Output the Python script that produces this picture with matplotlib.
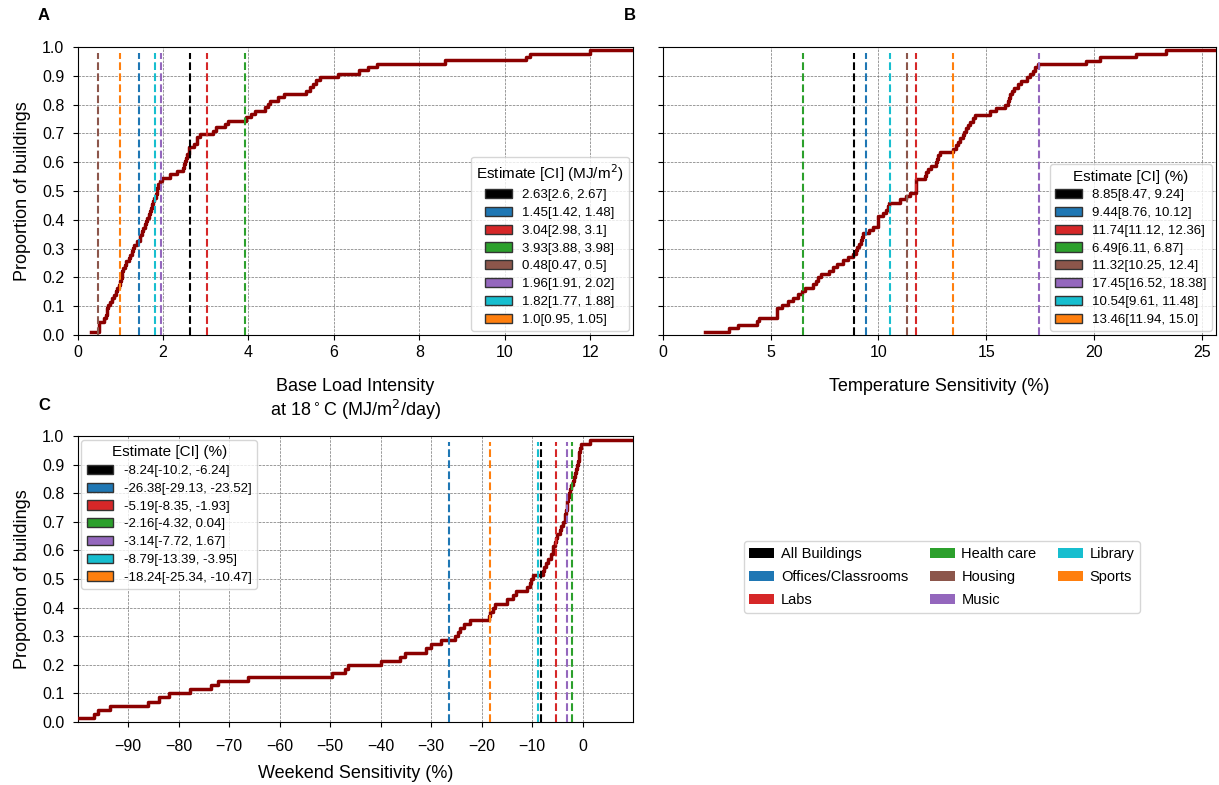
import matplotlib.pyplot as plt
import numpy as np
from matplotlib.patches import Patch

plt.rcParams['font.family'] = ['Liberation Sans', 'DejaVu Sans']
plt.rcParams['font.size'] = 10

# Building groups and their colours (same order in every legend)
groups = ['All Buildings', 'Offices/Classrooms', 'Labs', 'Health care',
          'Housing', 'Music', 'Library', 'Sports']
group_colors = ['black', 'tab:blue', 'tab:red', 'tab:green',
                'tab:brown', 'tab:purple', 'tab:cyan', 'tab:orange']

# Panel A: base load intensity per building (MJ/m2/day)
base_load = [0.31, 0.50, 0.50, 0.51, 0.62, 0.66, 0.68, 0.70, 0.72, 0.75,
             0.80, 0.86, 0.90, 0.92, 0.98, 1.00, 1.02, 1.04, 1.05, 1.07,
             1.10, 1.14, 1.21, 1.24, 1.27, 1.30, 1.32, 1.39, 1.46, 1.47,
             1.50, 1.54, 1.58, 1.61, 1.63, 1.67, 1.70, 1.73, 1.75, 1.76,
             1.80, 1.83, 1.85, 1.87, 1.89, 1.93, 1.98, 2.16, 2.32, 2.46,
             2.50, 2.51, 2.54, 2.57, 2.60, 2.62, 2.72, 2.79, 2.80, 2.86,
             3.18, 3.25, 3.45, 3.53, 3.95, 4.07, 4.15, 4.38, 4.46, 4.50,
             4.70, 4.84, 5.34, 5.45, 5.50, 5.57, 5.67, 6.09, 6.59, 6.80,
             7.00, 8.60, 10.5, 10.6, 12.0, 14.0]
base_est = [2.63, 1.45, 3.04, 3.93, 0.48, 1.96, 1.82, 1.0]
base_lo = [2.6, 1.42, 2.98, 3.88, 0.47, 1.91, 1.77, 0.95]
base_hi = [2.67, 1.48, 3.1, 3.98, 0.5, 2.02, 1.88, 1.05]

# Panel B: temperature sensitivity per building (%)
temp_sens = [1.96, 3.09, 3.50, 4.35, 4.48, 5.31, 5.31, 5.31, 5.51, 5.82,
             6.05, 6.28, 6.45, 6.60, 6.98, 7.10, 7.20, 7.32, 7.70, 7.90,
             8.10, 8.36, 8.60, 8.80, 8.95, 9.00, 9.12, 9.20, 9.25, 9.29,
             9.55, 9.75, 9.98, 9.98, 9.98, 10.2, 10.35, 10.45, 10.5, 10.99,
             11.27, 11.45, 11.76, 11.76, 11.76, 11.76, 12.15, 12.22, 12.28, 12.45,
             12.65, 12.72, 12.78, 12.84, 13.46, 13.62, 13.70, 13.78, 13.90, 13.98,
             14.06, 14.15, 14.25, 14.40, 14.46, 15.15, 15.46, 15.85, 16.0, 16.05,
             16.12, 16.2, 16.3, 16.45, 16.6, 16.9, 17.05, 17.15, 17.25, 17.39,
             19.63, 20.25, 21.94, 23.33, 27.0]
temp_est = [8.85, 9.44, 11.74, 6.49, 11.32, 17.45, 10.54, 13.46]
temp_lo = [8.47, 8.76, 11.12, 6.11, 10.25, 16.52, 9.61, 11.94]
temp_hi = [9.24, 10.12, 12.36, 6.87, 12.4, 18.38, 11.48, 15.0]

# Panel C: weekend sensitivity per building (%), no housing estimate
weekend_sens = [-101.0, -96.8, -96.0, -93.6, -86.1, -83.8, -81.9, -77.8, -73.6, -72.2,
                -66.2, -49.7, -47.1, -46.5, -40.0, -36.1, -35.2, -31.0, -30.0, -28.0,
                -25.3, -24.6, -24.2, -23.4, -22.2, -18.6, -18.3, -17.7, -17.4, -14.9,
                -13.8, -13.1, -11.0, -10.3, -10.1, -9.8, -7.8, -7.7, -7.2, -6.8,
                -6.3, -5.9, -5.8, -5.4, -5.2, -5.0, -4.5, -4.2, -3.8, -3.5,
                -3.4, -3.2, -3.1, -3.0, -2.8, -2.6, -2.4, -2.2, -1.8, -1.6,
                -1.5, -1.3, -1.0, -0.86, -0.75, -0.6, -0.45, -0.3, 1.5, 12.0]
week_est = [-8.24, -26.38, -5.19, -2.16, None, -3.14, -8.79, -18.24]
week_lo = [-10.2, -29.13, -8.35, -4.32, None, -7.72, -13.39, -25.34]
week_hi = [-6.24, -23.52, -1.93, 0.04, None, 1.67, -3.95, -10.47]

W, H = 1219, 785


def px_axes(fig, left, top, right, bottom):
    """Add axes given pixel edges of the reference image"""
    return fig.add_axes([left / W, 1 - bottom / H, (right - left) / W, (bottom - top) / H])


def draw_panel(ax, values, est, lo, hi, title, loc):
    x = np.sort(values)
    y = np.arange(1, len(x) + 1) / len(x)
    ax.step(x, y, where='post', color='darkred', lw=2.5, zorder=3)

    handles = []
    for e, l, h, c in zip(est, lo, hi, group_colors):
        if e is None:
            continue
        ax.axvline(e, ymin=0, ymax=0.98, color=c, ls='--', lw=1.5, zorder=4)
        handles.append(Patch(facecolor=c, edgecolor='0.2', label=f'{e}[{l}, {h}]'))

    ax.set_ylim(0, 1.0)
    ax.set_yticks(np.arange(0, 1.01, 0.1))
    ax.yaxis.set_major_formatter(plt.FormatStrFormatter('%.1f'))
    ax.grid(True, ls='--', lw=0.5, color='0.45')
    ax.set_axisbelow(True)
    ax.tick_params(labelsize=11.5)
    ax.tick_params(axis='y', pad=6)
    ax.legend(handles=handles, title=title, loc=loc, fontsize=9.5, title_fontsize=11,
              handlelength=2.0, labelspacing=0.42, borderaxespad=0.3)


fig = plt.figure(figsize=(W / 100, H / 100), dpi=100)

# A
ax_a = px_axes(fig, 77.5, 47, 633, 335)
draw_panel(ax_a, base_load, base_est, base_lo, base_hi,
           'Estimate [CI] (MJ/m$^2$)', 'lower right')
ax_a.set_xlim(0, 13)
ax_a.set_xticks(np.arange(0, 13, 2))
ax_a.set_xlabel('Base Load Intensity\nat 18$^\\circ$C (MJ/m$^2$/day)', fontsize=13, labelpad=13)
ax_a.set_ylabel('Proportion of buildings', fontsize=13, labelpad=8)

# B
ax_b = px_axes(fig, 662.7, 47, 1216, 335)
draw_panel(ax_b, temp_sens, temp_est, temp_lo, temp_hi,
           'Estimate [CI] (%)', 'lower right')
ax_b.set_xlim(0, 25.65)
ax_b.set_xticks(np.arange(0, 26, 5))
ax_b.tick_params(labelleft=False)
ax_b.set_xlabel('Temperature Sensitivity (%)', fontsize=13, labelpad=13)

# C
ax_c = px_axes(fig, 77.5, 436, 633, 722)
draw_panel(ax_c, weekend_sens, week_est, week_lo, week_hi,
           'Estimate [CI] (%)', 'upper left')
ax_c.set_xlim(-100, 10)
ax_c.set_xticks(np.arange(-90, 1, 10))
ax_c.tick_params(axis='x', pad=9)
ax_c.set_xlabel('Weekend Sensitivity (%)', fontsize=13, labelpad=8)
ax_c.set_ylabel('Proportion of buildings', fontsize=13, labelpad=8)

# Shared group legend
group_handles = [Patch(facecolor=c, label=g) for g, c in zip(groups, group_colors)]
fig.legend(handles=group_handles, loc='center', bbox_to_anchor=(942 / W, 1 - 577 / H),
           ncol=3, fontsize=10.5, handlelength=1.7, handletextpad=0.45,
           columnspacing=1.5, labelspacing=0.6)

for label, x, y in [('A', 44, 16), ('B', 630, 16), ('C', 44, 405)]:
    fig.text(x / W, 1 - y / H, label, fontsize=12, fontweight='bold', ha='center', va='center')

plt.savefig('out.png', dpi=100)
plt.close()
